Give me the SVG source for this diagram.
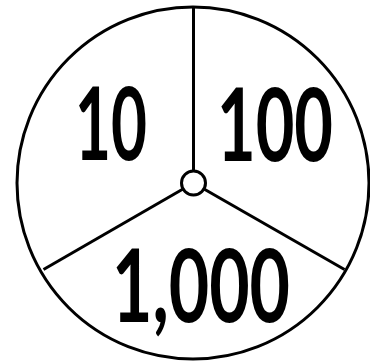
<svg xmlns="http://www.w3.org/2000/svg" width="370" height="361" viewBox="0 0 370 361">
<style>
.ln{stroke:#000;stroke-width:3;fill:none}
.t{font-family:"Lato","DejaVu Sans",sans-serif;font-weight:bold;font-size:101px;fill:#000}
</style>
<rect width="370" height="361" fill="#fff"/>
<g id="wheel">
<circle class="ln" cx="193" cy="183" r="176" stroke-width="2.6"/>
</g>
<g id="connectors">
<line class="ln" x1="193.5" y1="7" x2="193.5" y2="171"/>
<line class="ln" x1="183" y1="189" x2="43.5" y2="269.5"/>
<line class="ln" x1="204" y1="189" x2="344.5" y2="269.5"/>
</g>
<g id="hub">
<circle class="ln" cx="193.5" cy="183" r="12" fill="#fff"/>
</g>
<g id="n10"><text class="t" x="75" y="160" textLength="72" lengthAdjust="spacingAndGlyphs">10</text></g>
<g id="n100"><text class="t" x="217" y="161" textLength="116" lengthAdjust="spacingAndGlyphs">100</text></g>
<g id="n1000"><text class="t" x="112" y="322" textLength="178" lengthAdjust="spacingAndGlyphs">1,000</text></g>
</svg>
